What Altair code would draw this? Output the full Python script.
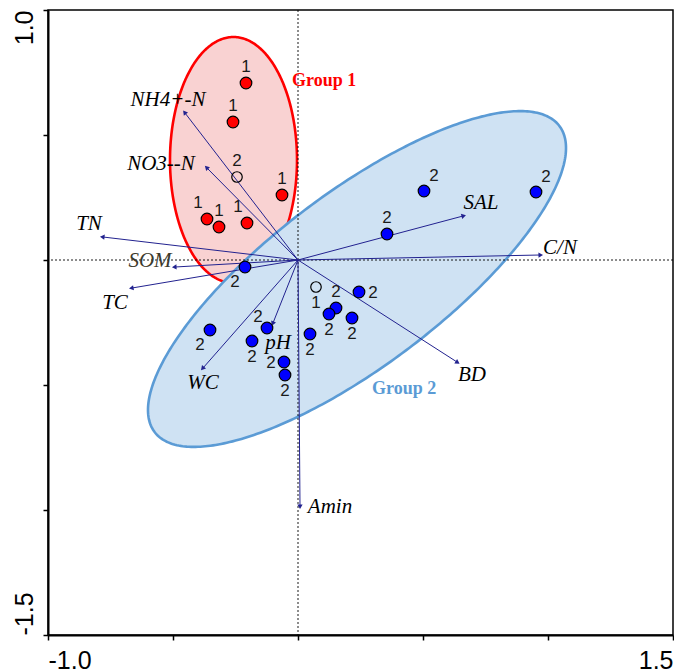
import altair as alt
import numpy as np
import pandas as pd

# ---------------- data ----------------
# sample scores
pt_x = [-0.208, -0.260, -0.064, -0.364, -0.316, -0.204, -0.244,
        -0.212, 0.244, 0.152, 0.124, 0.216, -0.352, -0.124, -0.184,
        0.048, -0.056, -0.052, 0.504, 0.952, 0.356, 0.072]
pt_y = [0.708, 0.552, 0.260, 0.164, 0.132, 0.148, 0.332,
        -0.028, -0.128, -0.192, -0.216, -0.232, -0.280, -0.272, -0.324,
        -0.296, -0.408, -0.460, 0.276, 0.272, 0.104, -0.108]
pt_kind = ["g1"] * 6 + ["open"] + ["g2"] * 14 + ["open"]
pt_label = ["1"] * 6 + ["2"] + ["2"] * 14 + ["1"]
pt_lpos = ["above", "above", "above", "above-left", "above", "above-left", "above",
           "lower-left", "right", "above", "below", "below", "lower-left", "upper-left",
           "below", "below", "left", "below", "upper-right", "upper-right", "above", "below"]

# environmental vectors
env_names = ["NH4+-N", "NO3--N", "TN", "SOM", "TC", "C/N", "SAL", "BD", "Amin", "WC", "pH"]
env_x = [-0.452, -0.364, -0.780, -0.492, -0.664, 0.968, 0.660, 0.636, 0.008, -0.380, -0.100]
env_y = [0.588, 0.368, 0.092, -0.028, -0.112, 0.020, 0.176, -0.408, -0.984, -0.432, -0.252]
env_lx = [-0.520, -0.548, -0.836, -0.592, -0.732, 1.048, 0.732, 0.696, 0.128, -0.380, -0.080]
env_ly = [0.640, 0.384, 0.144, -0.004, -0.172, 0.048, 0.228, -0.460, -0.988, -0.492, -0.332]

# group ellipses (centre, semi-axes, rotation in degrees)
ell_names = ["Group 1", "Group 2"]
ell_cx = [-0.258, 0.236]
ell_cy = [0.400, -0.076]
ell_a = [0.254, 1.015]
ell_b = [0.492, 0.346]
ell_rot = [0.0, 37.1]
ell_fill = ["#f9d2d2", "#cfe2f3"]
ell_stroke = ["#ff0000", "#5b9bd5"]
grp_lx = [-0.024, 0.296]
grp_ly = [0.716, -0.516]

# ---------------- helpers ----------------
XD = [-1.0, 1.5]
YD = [-1.5, 1.0]
xs = alt.Scale(domain=XD, nice=False, zero=False)
ys = alt.Scale(domain=YD, nice=False, zero=False)


def ellipse_frames(i):
    cx, cy, a, b = ell_cx[i], ell_cy[i], ell_a[i], ell_b[i]
    th = np.radians(ell_rot[i])
    c, s = np.cos(th), np.sin(th)
    A = c * c / a ** 2 + s * s / b ** 2
    C = s * s / a ** 2 + c * c / b ** 2
    B = 2 * s * c * (1 / a ** 2 - 1 / b ** 2)
    hw = np.sqrt(a ** 2 * c ** 2 + b ** 2 * s ** 2)
    t = np.linspace(0, np.pi, 400)
    dx = hw * np.cos(t)
    disc = np.clip(B ** 2 * dx ** 2 - 4 * C * (A * dx ** 2 - 1), 0, None)
    y1 = (-B * dx + np.sqrt(disc)) / (2 * C)
    y2 = (-B * dx - np.sqrt(disc)) / (2 * C)
    area = pd.DataFrame({"x": cx + dx, "y": cy + y1, "y2": cy + y2})
    u = np.linspace(0, 2 * np.pi, 361)
    ex = a * np.cos(u)
    ey = b * np.sin(u)
    outline = pd.DataFrame({"x": cx + ex * c - ey * s, "y": cy + ex * s + ey * c,
                            "o": np.arange(len(u))})
    return area, outline


layers = []
for i in range(len(ell_names)):
    area_df, line_df = ellipse_frames(i)
    layers.append(alt.Chart(area_df).mark_area(color=ell_fill[i], opacity=1).encode(
        x=alt.X("x:Q", scale=xs), y=alt.Y("y:Q", scale=ys), y2="y2:Q"))
    layers.append(alt.Chart(line_df).mark_line(color=ell_stroke[i], strokeWidth=2.6).encode(
        x=alt.X("x:Q", scale=xs), y=alt.Y("y:Q", scale=ys), order="o:Q"))

# zero reference lines
zero_df = pd.DataFrame({"v": [0.0]})
layers.append(alt.Chart(zero_df).mark_rule(color="black", strokeWidth=0.9, strokeDash=[2, 2]).encode(
    x=alt.X("v:Q", scale=xs)))
layers.append(alt.Chart(zero_df).mark_rule(color="black", strokeWidth=0.9, strokeDash=[2, 2]).encode(
    y=alt.Y("v:Q", scale=ys)))

# environmental arrows
env_df = pd.DataFrame({"name": env_names, "x": env_x, "y": env_y, "lx": env_lx, "ly": env_ly})
env_df["ang"] = (np.degrees(np.arctan2(env_df["x"], env_df["y"])) + 360) % 360
arrow_col = "#22228f"
layers.append(alt.Chart(env_df).mark_rule(color=arrow_col, strokeWidth=1).transform_calculate(
    x0="0", y0="0").encode(
    x=alt.X("x0:Q", scale=xs), y=alt.Y("y0:Q", scale=ys), x2="x:Q", y2="y:Q"))
layers.append(alt.Chart(env_df).mark_point(shape="triangle", filled=True, size=28,
                                           color=arrow_col, opacity=1).encode(
    x=alt.X("x:Q", scale=xs), y=alt.Y("y:Q", scale=ys), angle=alt.Angle("ang:Q", scale=None)))
layers.append(alt.Chart(env_df).mark_text(font="Liberation Serif", fontStyle="italic",
                                          fontSize=21).encode(
    x=alt.X("lx:Q", scale=xs), y=alt.Y("ly:Q", scale=ys), text="name:N",
    color=alt.condition(alt.datum.name == "SOM", alt.value("#3d3a2c"), alt.value("black"))))

# sample points
pt_df = pd.DataFrame({"x": pt_x, "y": pt_y, "kind": pt_kind, "label": pt_label, "lpos": pt_lpos})
layers.append(alt.Chart(pt_df).transform_filter(alt.datum.kind != "open").mark_circle(
    size=135, opacity=1, stroke="black", strokeWidth=1.2).encode(
    x=alt.X("x:Q", scale=xs), y=alt.Y("y:Q", scale=ys),
    fill=alt.Fill("kind:N", scale=alt.Scale(domain=["g1", "g2"], range=["#ff0000", "#0000ff"]),
                  legend=None)))
layers.append(alt.Chart(pt_df).transform_filter(alt.datum.kind == "open").mark_point(
    shape="circle", size=110, filled=False, color="black", strokeWidth=1.2, opacity=1).encode(
    x=alt.X("x:Q", scale=xs), y=alt.Y("y:Q", scale=ys)))

offsets = {"above": (0, -16), "below": (0, 16), "left": (-13, 1), "right": (14, 1),
           "above-left": (-9, -16), "upper-left": (-9, -11), "upper-right": (10, -15),
           "lower-left": (-10, 15)}
for pos, (ddx, ddy) in offsets.items():
    layers.append(alt.Chart(pt_df).transform_filter(alt.datum.lpos == pos).mark_text(
        font="Liberation Sans", fontSize=17, color="#1a1a1a", dx=ddx, dy=ddy).encode(
        x=alt.X("x:Q", scale=xs), y=alt.Y("y:Q", scale=ys), text="label:N"))

# group labels
grp_df = pd.DataFrame({"name": ell_names, "x": grp_lx, "y": grp_ly, "col": ell_stroke})
layers.append(alt.Chart(grp_df).mark_text(font="Liberation Serif", fontWeight="bold",
                                          fontSize=18, align="left").encode(
    x=alt.X("x:Q", scale=xs), y=alt.Y("y:Q", scale=ys), text="name:N",
    color=alt.Color("col:N", scale=None)))

x_axis = alt.Axis(values=[-1.0, -0.5, 0.0, 0.5, 1.0, 1.5], title=None, grid=False,
                  labelExpr="datum.value == -1 ? '-1.0' : (datum.value == 1.5 ? '1.5' : '')",
                  labelFlush=True, labelFontSize=25, labelFont="Liberation Sans",
                  labelColor="black", tickSize=5, labelPadding=8,
                  domainColor="black", domainWidth=2, tickColor="black", tickWidth=1.5)
y_axis = alt.Axis(values=[-1.5, -1.0, -0.5, 0.0, 0.5, 1.0], title=None, grid=False,
                  labelExpr="datum.value == 1 ? '1.0' : (datum.value == -1.5 ? '-1.5' : '')",
                  labelAngle=270,
                  labelAlign={"condition": {"test": "datum.value > 0", "value": "right"},
                              "value": "left"},
                  labelBaseline="bottom",
                  labelFontSize=25, labelFont="Liberation Sans", labelColor="black",
                  tickSize=5, labelPadding=6,
                  domainColor="black", domainWidth=2, tickColor="black", tickWidth=1.5)

# attach axes to first layer
layers[0] = layers[0].encode(x=alt.X("x:Q", scale=xs, axis=x_axis),
                             y=alt.Y("y:Q", scale=ys, axis=y_axis))

chart = alt.layer(*layers).resolve_scale(x="shared", y="shared").properties(
    width=625, height=625,
    autosize=alt.AutoSizeParams(type="none"),
    padding={"left": 48, "top": 10, "right": 1, "bottom": 37},
).configure_view(stroke="black", strokeWidth=1.5).configure_axis(grid=False)

chart.save("out.html", embed_options={"renderer": "svg", "actions": False})
